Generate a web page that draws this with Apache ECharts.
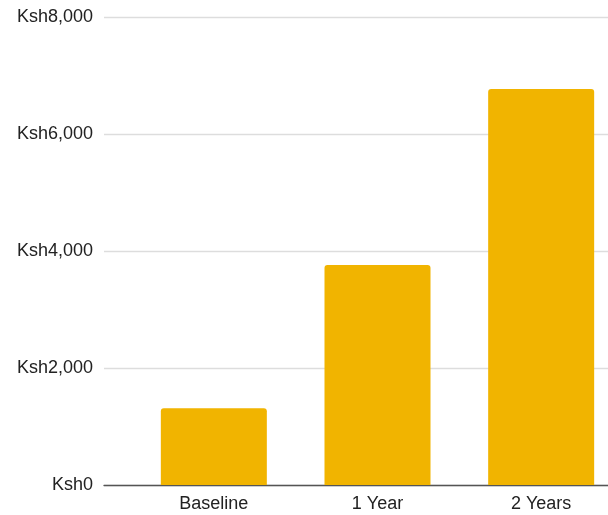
<!DOCTYPE html>
<html>
<head>
<meta charset="utf-8">
<script src="https://cdn.jsdelivr.net/npm/echarts@6/dist/echarts.min.js"></script>
<style>html,body{margin:0;padding:0;background:#fff;overflow:hidden}#c{width:623px;height:515px}</style>
</head>
<body>
<div id="c"></div>
<script>
const categories = ['Baseline', '1 Year', '2 Years'];
const values = [1310, 3760, 6770];
const yMin = 0, yMax = 8000, yStep = 2000;

const chart = echarts.init(document.getElementById('c'));
const fontFamily = '"Liberation Sans", Arial, sans-serif';
chart.setOption({
  animation: false,
  grid: [
    { left: 104, right: 15, top: 17, bottom: 30 },
    { left: 132, right: 0, top: 17, bottom: 30 }
  ],
  xAxis: [
    { gridIndex: 0, type: 'category', data: categories, show: true,
      axisLine: { show: true, lineStyle: { color: '#555', width: 1.3 } },
      axisTick: { show: false }, axisLabel: { show: false } },
    { gridIndex: 1, type: 'category', data: categories,
      axisLine: { show: false }, axisTick: { show: false },
      axisLabel: { color: '#222', fontSize: 18, fontFamily: fontFamily, margin: 10 } }
  ],
  yAxis: [
    { gridIndex: 0, type: 'value', min: yMin, max: yMax, interval: yStep,
      axisLine: { show: false }, axisTick: { show: false },
      axisLabel: { color: '#222', fontSize: 18, fontFamily: fontFamily, margin: 11,
        formatter: v => 'Ksh' + v.toLocaleString('en-US') },
      splitLine: { lineStyle: { color: '#ddd', width: 1.3 } } },
    { gridIndex: 1, type: 'value', min: yMin, max: yMax, interval: yStep, show: false,
      splitLine: { show: false } }
  ],
  series: [{
    type: 'bar', xAxisIndex: 1, yAxisIndex: 1, data: values,
    barWidth: 106,
    itemStyle: { color: '#f1b400', borderRadius: [3, 3, 0, 0] }
  }]
});
</script>
</body>
</html>
